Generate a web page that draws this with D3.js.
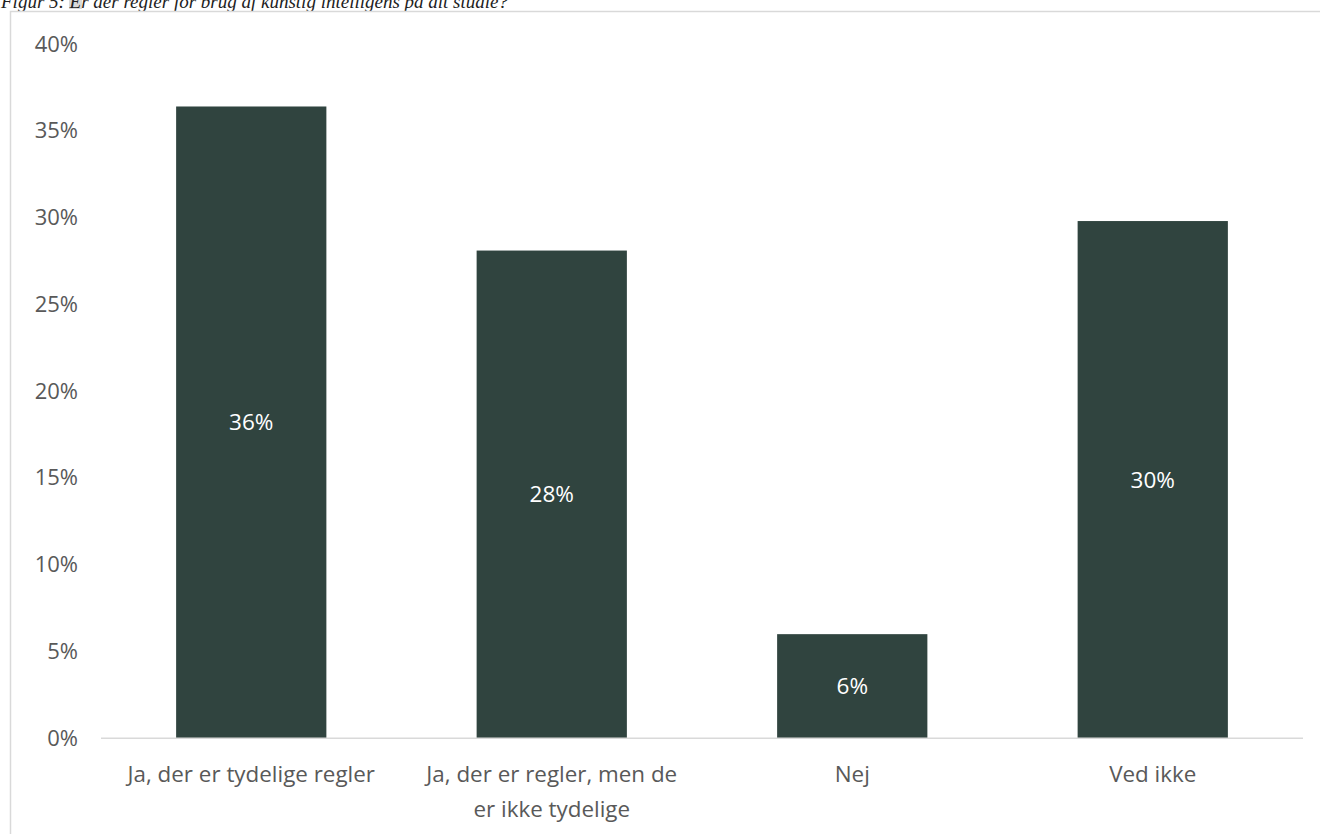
<!DOCTYPE html>
<html>
<head>
<meta charset="utf-8">
<script src="https://cdn.jsdelivr.net/npm/d3@7"></script>
<style>
  html, body { margin: 0; padding: 0; background: #fff; }
  svg { display: block; }
</style>
</head>
<body>
<svg id="chart" width="1320" height="834"></svg>
<script>
// Survey answers: share of respondents per answer
const categories = [
  ["Ja, der er tydelige regler"],
  ["Ja, der er regler, men de", "er ikke tydelige"],
  ["Nej"],
  ["Ved ikke"]
];
const values = [36.4, 28.1, 6.0, 29.8];
const yTicks = [0, 5, 10, 15, 20, 25, 30, 35, 40];
const titleText = "Figur 5: Er der regler for brug af kunstig intelligens på dit studie?";

const svg = d3.select("#chart");
const W = 1320, H = 834;
const plot = { left: 101, right: 1303, top: 44, bottom: 738.3 };

const barColor = "#30443f";
const textGray = "#595959";
const lineGray = "#d9d9d9";
const font = "'Open Sans', 'Noto Sans', sans-serif";

// Caption line above the chart frame
const cap = svg.append("g");
cap.append("rect")
  .attr("x", 69).attr("y", 0).attr("width", 13).attr("height", 9)
  .attr("fill", "#d9d9d9");
cap.append("text")
  .attr("x", 1).attr("y", 7.5)
  .attr("font-family", "'Liberation Serif', 'DejaVu Serif', serif")
  .attr("font-style", "italic")
  .attr("font-size", 19)
  .attr("fill", "#222")
  .text(titleText);

// Chart frame (continues past the right and bottom edges)
svg.append("rect")
  .attr("x", 10.5).attr("y", 11.5)
  .attr("width", W + 20).attr("height", H + 20)
  .attr("fill", "none")
  .attr("stroke", lineGray)
  .attr("stroke-width", 1.5);

const x = d3.scaleBand()
  .domain(d3.range(categories.length))
  .range([plot.left, plot.right])
  .paddingInner(0.5)
  .paddingOuter(0.25);

const y = d3.scaleLinear()
  .domain([0, 40])
  .range([plot.bottom, plot.top]);

// Y axis labels (no axis line, no ticks)
const yAxis = svg.append("g")
  .attr("transform", `translate(${plot.left},0)`)
  .call(d3.axisLeft(y).tickValues(yTicks).tickFormat(d => d + "%").tickSize(0).tickPadding(23));
yAxis.select(".domain").remove();
yAxis.selectAll("text")
  .attr("font-family", font)
  .attr("font-size", 22)
  .attr("fill", textGray);

// Bars
svg.append("g").selectAll("rect")
  .data(values)
  .join("rect")
  .attr("x", (d, i) => x(i))
  .attr("y", d => y(d))
  .attr("width", x.bandwidth())
  .attr("height", d => y(0) - y(d))
  .attr("fill", barColor);

// X axis baseline
svg.append("line")
  .attr("x1", plot.left).attr("x2", plot.right)
  .attr("y1", y(0)).attr("y2", y(0))
  .attr("stroke", lineGray)
  .attr("stroke-width", 1.5);

// Value labels centred in the bars
svg.append("g").selectAll("text")
  .data(values)
  .join("text")
  .attr("x", (d, i) => x(i) + x.bandwidth() / 2)
  .attr("y", d => (y(d) + y(0)) / 2)
  .attr("dy", "0.35em")
  .attr("text-anchor", "middle")
  .attr("font-family", font)
  .attr("font-size", 22.5)
  .attr("fill", "#ffffff")
  .text(d => d3.format(".0f")(d) + "%");

// Category labels under the axis
const cat = svg.append("g").selectAll("text")
  .data(categories)
  .join("text")
  .attr("x", (d, i) => x(i) + x.bandwidth() / 2)
  .attr("y", 774)
  .attr("text-anchor", "middle")
  .attr("font-family", font)
  .attr("font-size", 22.4)
  .attr("fill", textGray);
cat.selectAll("tspan")
  .data(d => d)
  .join("tspan")
  .attr("x", function () { return d3.select(this.parentNode).attr("x"); })
  .attr("dy", (d, i) => i === 0 ? "0.35em" : 35)
  .text(d => d);
</script>
</body>
</html>
